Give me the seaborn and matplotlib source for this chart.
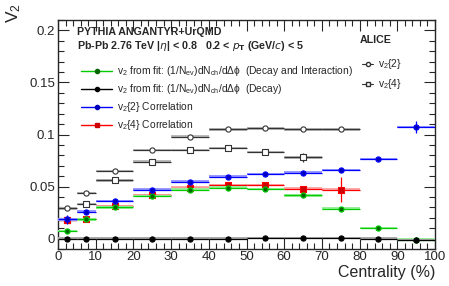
import numpy as np
import matplotlib
matplotlib.use("Agg")
import matplotlib.pyplot as plt
from matplotlib.lines import Line2D
from matplotlib.ticker import MultipleLocator
import pandas as pd
import seaborn as sns

# centrality bins
cent = [2.5, 7.5, 15, 25, 35, 45, 55, 65, 75, 85, 95]
half = [2.5, 2.5, 5, 5, 5, 5, 5, 5, 5, 5, 5]

# model values
v2_decay_int = [0.0075, 0.0185, 0.030, 0.041, 0.047, 0.049, 0.0476, 0.0414, 0.0288, 0.0104, -0.0010]
v2_decay = [0.0, 0.0, 0.0, 0.0, 0.0, 0.0, 0.0005, 0.0008, 0.0004, 0.0, -0.0013]
v2_2corr = [0.0184, 0.026, 0.036, 0.047, 0.0547, 0.0595, 0.062, 0.0634, 0.066, 0.0767, 0.107]
v2_2corr_err = [0.004, 0.0005, 0.0005, 0.0005, 0.0005, 0.0005, 0.0005, 0.0005, 0.0005, 0.0008, 0.006]
v2_4corr = [0.018, 0.019, 0.031, 0.042, 0.049, 0.0515, 0.0515, 0.048, 0.047]
v2_4corr_err = [0.001, 0.001, 0.001, 0.001, 0.001, 0.0015, 0.0015, 0.002, 0.012]

# ALICE data
alice_v22 = [0.029, 0.044, 0.065, 0.085, 0.098, 0.105, 0.106, 0.105, 0.105]
alice_v24 = [0.018, 0.033, 0.056, 0.074, 0.085, 0.087, 0.083, 0.078]
alice_v24_err = [0.0005, 0.0005, 0.0005, 0.0005, 0.0005, 0.0005, 0.0005, 0.004]

sns.set_style("ticks")
plt.rcParams['font.family'] = ['Liberation Sans', 'DejaVu Sans']
plt.rcParams['mathtext.default'] = 'regular'

fig = plt.figure(figsize=(4.49, 2.86), dpi=100)
ax = fig.add_axes([58/449, 1-249/286, 377/449, 229/286])


def draw(vals, err, dark, light, marker, mfc, z):
    n = len(vals)
    x = np.array(cent[:n])
    xe = np.array(half[:n])
    y = np.array(vals)
    # light band (systematic)
    for xi, xei, yi in zip(x, xe, y):
        ax.fill_between([xi - xei, xi + xei], yi - 0.0012, yi + 0.0012,
                        color=light, lw=0, zorder=z)
    ax.errorbar(x, y, xerr=xe, yerr=err, fmt='none', ecolor=dark, elinewidth=0.9,
                capsize=0, zorder=z + 0.5)
    df = pd.DataFrame({'x': x, 'y': y})
    sns.scatterplot(data=df, x='x', y='y', ax=ax, marker=marker, s=14,
                    color=mfc, edgecolor=dark, linewidth=0.8, zorder=z + 1, legend=False)


draw(alice_v22, None, '#333333', '#bbbbbb', 'o', 'white', 2)
draw(alice_v24, alice_v24_err, '#333333', '#bbbbbb', 's', 'white', 2)
draw(v2_4corr, v2_4corr_err, '#ff0000', '#ffaaaa', 's', '#cc0000', 4)
draw(v2_decay_int, None, '#00cc00', '#99ee99', 'o', '#006600', 5)
draw(v2_2corr, v2_2corr_err, '#0000ff', '#9999ff', 'o', '#0000bb', 6)
draw(v2_decay, None, '#000000', '#aaaaaa', 'o', '#000000', 7)

ax.set_xlim(0, 100)
ax.set_ylim(-0.01, 0.21)
ax.xaxis.set_major_locator(MultipleLocator(10))
ax.xaxis.set_minor_locator(MultipleLocator(2))
ax.yaxis.set_major_locator(MultipleLocator(0.05))
ax.yaxis.set_minor_locator(MultipleLocator(0.01))
ax.set_yticks([0, 0.05, 0.1, 0.15, 0.2])
ax.set_yticklabels(['0', '0.05', '0.1', '0.15', '0.2'])
ax.tick_params(which='both', direction='in', top=True, right=True, labelsize=9.5)
ax.tick_params(axis='y', pad=2)
ax.tick_params(axis='x', pad=1.5)
ax.tick_params(which='major', length=8, width=0.8)
ax.tick_params(which='minor', length=4, width=0.8)
for s in ax.spines.values():
    s.set_linewidth(1.0)
ax.set_xlabel('')
ax.set_ylabel('')

fig.text(435/449, 1-273/286, 'Centrality (%)', ha='right', va='center', fontsize=11.5)
fig.text(0.03, 0.99, r'V$_2$', rotation=90, ha='center', va='top', fontsize=12.5)

fig.text(77/449, 1-32/286, 'PYTHIA ANGANTYR+UrQMD', fontsize=7.7, weight='bold', va='center')
fig.text(77/449, 1-46/286, r'Pb-Pb 2.76 TeV |$\it{\eta}$| < 0.8   0.2 < $\bf{\it{p}}_T$ (GeV/$\it{c}$) < 5',
         fontsize=7.7, weight='bold', va='center')

h1 = [
    Line2D([], [], color='#00cc00', marker='o', mfc='#006600', mec='#006600', ms=3, lw=1),
    Line2D([], [], color='#000000', marker='o', mfc='#000000', mec='#000000', ms=3, lw=1),
    Line2D([], [], color='#0000ff', marker='o', mfc='#0000bb', mec='#0000bb', ms=3, lw=1),
    Line2D([], [], color='#ff0000', marker='s', mfc='#cc0000', mec='#cc0000', ms=3, lw=1),
]
l1 = [
    r'v$_2$ from fit: (1/N$_{ev}$)dN$_{ch}$/d$\Delta\phi$  (Decay and Interaction)',
    r'v$_2$ from fit: (1/N$_{ev}$)dN$_{ch}$/d$\Delta\phi$  (Decay)',
    r'v$_2${2} Correlation',
    r'v$_2${4} Correlation',
]
leg1 = ax.legend(h1, l1, loc='upper left', bbox_to_anchor=(76/449, 1-59/286),
                 bbox_transform=fig.transFigure, frameon=False, fontsize=7.4,
                 handlelength=3.0, handletextpad=0.5, labelspacing=0.4, borderpad=0)
ax.add_artist(leg1)

fig.text(360/449, 1-40/286, 'ALICE', fontsize=7.7, weight='bold', va='center')
h2 = [
    Line2D([], [], color='#333333', marker='o', mfc='white', mec='#333333', ms=3, lw=0.8),
    Line2D([], [], color='#333333', marker='s', mfc='white', mec='#333333', ms=3, lw=0.8),
]
l2 = [r'v$_2${2}', r'v$_2${4}']
ax.legend(h2, l2, loc='upper left', bbox_to_anchor=(357/449, 1-52/286),
          bbox_transform=fig.transFigure, frameon=False, fontsize=7.4,
          handlelength=1.1, handletextpad=0.4, labelspacing=0.6, borderpad=0)

fig.savefig('out.png', dpi=100)
